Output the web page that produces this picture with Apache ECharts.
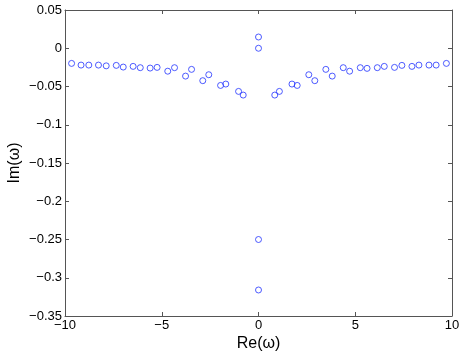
<!DOCTYPE html>
<html>
<head>
<meta charset="UTF-8">
<script src="https://cdn.jsdelivr.net/npm/echarts@6/dist/echarts.min.js"></script>
<style>
  html, body { margin: 0; padding: 0; background: #fff; }
  #main { width: 463px; height: 356px; }
</style>
</head>
<body>
<div id="main"></div>
<script>
// eigenvalues: real parts and imaginary parts
var reVals = [-9.66, -9.17, -8.77, -8.27, -7.87, -7.35, -6.99, -6.48, -6.11, -5.60, -5.24,
              -4.69, -4.34, -3.77, -3.46, -2.88, -2.57, -1.96, -1.69, -1.03, -0.79,
              0, 0, 0, 0,
              0.84, 1.08, 1.73, 2.00, 2.60, 2.91, 3.48, 3.81, 4.38, 4.71, 5.26, 5.61,
              6.14, 6.50, 7.03, 7.41, 7.93, 8.29, 8.81, 9.18, 9.71];
var imVals = [-0.0198, -0.022, -0.022, -0.022, -0.023, -0.0224, -0.0246, -0.0237, -0.0254, -0.0259, -0.025,
              -0.030, -0.0254, -0.0364, -0.0276, -0.0424, -0.0346, -0.0486, -0.0468, -0.0564, -0.0612,
              0.0147, 0, -0.25, -0.316,
              -0.0612, -0.0564, -0.0468, -0.0486, -0.0346, -0.0424, -0.0276, -0.0364, -0.0254, -0.030, -0.0254, -0.0263,
              -0.0254, -0.0237, -0.025, -0.0224, -0.0237, -0.022, -0.022, -0.022, -0.0198];

var points = reVals.map(function (x, i) { return [x, imVals[i]]; });

function fmt(v) {
  // MATLAB style minus sign
  return String(+v.toFixed(2)).replace('-', '\u2212');
}

var font = 'Liberation Sans, Arial, Helvetica, sans-serif';
var lineCol = '#555';

var myChart = echarts.init(document.getElementById('main'));
var option = {
  animation: false,
  grid: { left: 65, right: 11, top: 10, bottom: 40, containLabel: false, outerBoundsMode: 'none' },
  xAxis: [{
    type: 'value', min: -10, max: 10, interval: 5,
    name: 'Re(\u03c9)', nameLocation: 'middle', nameGap: 20, nameMoveOverlap: false,
    nameTextStyle: { fontFamily: font, fontSize: 16, color: '#000' },
    axisLine: { show: true, onZero: false, lineStyle: { color: lineCol } },
    axisTick: { show: true, inside: true, length: 4, lineStyle: { color: lineCol } },
    axisLabel: { fontFamily: font, fontSize: 13, color: '#000', margin: 3, formatter: fmt },
    splitLine: { show: false }
  }, {
    type: 'value', position: 'top', min: -10, max: 10, interval: 5,
    axisLine: { show: true, onZero: false, lineStyle: { color: lineCol } },
    axisTick: { show: true, inside: true, length: 4, lineStyle: { color: lineCol } },
    axisLabel: { show: false },
    splitLine: { show: false }
  }],
  yAxis: [{
    type: 'value', min: -0.35, max: 0.05, interval: 0.05,
    name: 'Im(\u03c9)', nameLocation: 'middle', nameGap: 42, nameRotate: 90, nameMoveOverlap: false,
    nameTextStyle: { fontFamily: font, fontSize: 16, color: '#000' },
    axisLine: { show: true, onZero: false, lineStyle: { color: lineCol } },
    axisTick: { show: true, inside: true, length: 4, lineStyle: { color: lineCol } },
    axisLabel: { fontFamily: font, fontSize: 13, color: '#000', margin: 3, formatter: fmt },
    splitLine: { show: false }
  }, {
    type: 'value', position: 'right', min: -0.35, max: 0.05, interval: 0.05,
    axisLine: { show: true, onZero: false, lineStyle: { color: lineCol } },
    axisTick: { show: true, inside: true, length: 4, lineStyle: { color: lineCol } },
    axisLabel: { show: false },
    splitLine: { show: false }
  }],
  series: [{
    type: 'scatter',
    xAxisIndex: 0, yAxisIndex: 0,
    data: points,
    symbol: 'circle',
    symbolSize: 6,
    itemStyle: { color: 'rgba(0,0,0,0)', borderColor: '#2233ff', borderWidth: 1 }
  }]
};
myChart.setOption(option);
</script>
</body>
</html>
